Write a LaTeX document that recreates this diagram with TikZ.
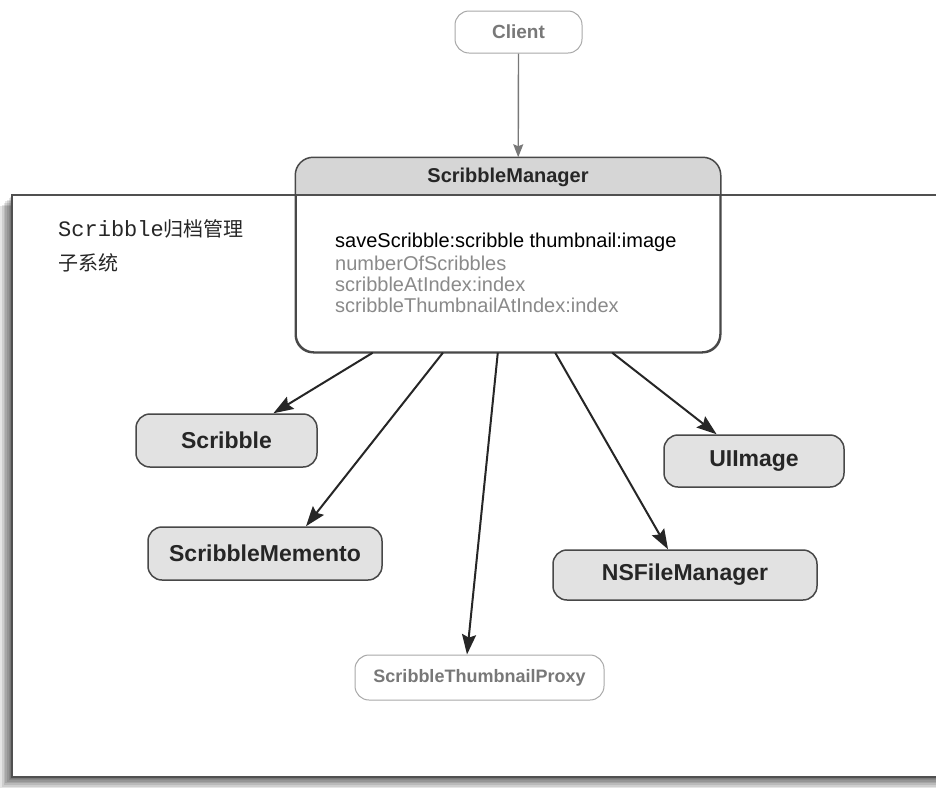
\documentclass[tikz,border=0pt]{standalone}
\usepackage{fontspec}
\setmainfont{Liberation Sans}
\setmonofont{Liberation Mono}
\newfontfamily\cjk{Noto Sans CJK SC}
\usetikzlibrary{arrows.meta,calc}
\definecolor{edge}{HTML}{484848}
\definecolor{boxfill}{HTML}{E2E2E2}
\definecolor{headfill}{HTML}{D6D6D6}
\definecolor{lightedge}{HTML}{A8A8A8}
\definecolor{lighttext}{HTML}{787878}
\definecolor{methodgray}{HTML}{8A8A8A}
\definecolor{ink}{HTML}{262626}
\definecolor{framecol}{HTML}{505050}

\begin{document}
\begin{tikzpicture}[x=1pt,y=-1pt,
  classbox/.style={draw=edge, line width=1.5pt, fill=boxfill, rounded corners=14pt,
    text=ink, font=\fontsize{23}{26}\selectfont\bfseries, inner sep=0pt},
  ghostbox/.style={draw=lightedge, line width=1pt, fill=white, rounded corners=14pt,
    text=lighttext, inner sep=0pt},
  uses/.style={draw=ink, line width=2pt, -{Stealth[length=20pt,width=14pt,inset=3pt]}},
  method/.style={anchor=west, inner sep=0pt, font=\fontsize{20}{21}\selectfont},
]
\useasboundingbox (0,0) rectangle (936,788);
\clip (0,0) rectangle (936,788);

% subsystem frame with its soft shadow (left and bottom)
\foreach \i in {1,...,7}
  \fill[black, opacity=0.1] (12-1.7*\i, 195+1.6*\i) rectangle (960, 777+1.6*\i);
\draw[framecol, line width=1.5pt, fill=white] (12,195) rectangle (960,777);

% subsystem caption
\node[anchor=west, inner sep=0pt, text=ink] (cap1) at (58,229)
  {\fontsize{22}{24}\selectfont\ttfamily Scribble\cjk\fontsize{20}{24}\selectfont 归档管理};
\node[anchor=west, inner sep=0pt, text=ink] (cap2) at (58,263)
  {\cjk\fontsize{20}{24}\selectfont 子系统};

% client
\node[ghostbox, minimum width=127pt, minimum height=42pt,
  font=\fontsize{19}{22}\selectfont\bfseries] (client) at (518.5,32) {Client};

% manager class box with gray header
\node[draw=edge, line width=1.5pt, fill=white, rounded corners=18pt,
  minimum width=424pt, minimum height=194pt, inner sep=0pt] (mgr) at (508,255) {};
\begin{scope}
  \clip (296,158) rectangle (720,195);
  \fill[headfill, rounded corners=18pt] (mgr.north west) rectangle (mgr.south east);
\end{scope}
\draw[framecol, line width=1.5pt] (mgr.west |- 0,195) -- (mgr.east |- 0,195);
\draw[edge, line width=1.5pt, rounded corners=18pt] (mgr.north west) rectangle (mgr.south east);
\node[inner sep=0pt, text=ink, font=\fontsize{20}{22}\selectfont\bfseries] (mgrname) at (508,177) {ScribbleManager};
\node[method, text=black] (m1) at (335,242) {saveScribble:scribble thumbnail:image};
\node[method, text=methodgray] (m2) at (335,263) {numberOfScribbles};
\node[method, text=methodgray] (m3) at (335,284) {scribbleAtIndex:index};
\node[method, text=methodgray] (m4) at (335,305) {scribbleThumbnailAtIndex:index};

% collaborators
\node[classbox, minimum width=181pt, minimum height=53pt] (scribble) at (226.5,440.5) {Scribble};
\node[classbox, minimum width=234pt, minimum height=53pt] (memento) at (265,553.5) {ScribbleMemento};
\node[classbox, minimum width=180pt, minimum height=52pt] (uiimage) at (754,461) {UIImage};
\node[classbox, minimum width=264pt, minimum height=50pt] (fileman) at (685,575) {NSFileManager};
\node[ghostbox, minimum width=249pt, minimum height=45pt,
  font=\fontsize{18}{21}\selectfont\bfseries] (proxy) at (479.5,677.5) {ScribbleThumbnailProxy};

% connectors
\draw[draw=lighttext, line width=1.4pt, -{Stealth[length=13pt,width=10pt,inset=2pt]}]
  (client.south) -- ($(mgr.north west)!0.524!(mgr.north east)$);
\draw[uses] ($(mgr.south west)!0.182!(mgr.south east)$) -- ($(scribble.north west)!0.757!(scribble.north east)$);
\draw[uses] ($(mgr.south west)!0.347!(mgr.south east)$) -- ($(memento.north west)!0.674!(memento.north east)$);
\draw[uses] ($(mgr.south west)!0.476!(mgr.south east)$) -- ($(proxy.north west)!0.45!(proxy.north east)$);
\draw[uses] ($(mgr.south west)!0.611!(mgr.south east)$) -- ($(fileman.north west)!0.436!(fileman.north east)$);
\draw[uses] ($(mgr.south west)!0.745!(mgr.south east)$) -- ($(uiimage.north west)!0.294!(uiimage.north east)$);
\end{tikzpicture}
\end{document}
